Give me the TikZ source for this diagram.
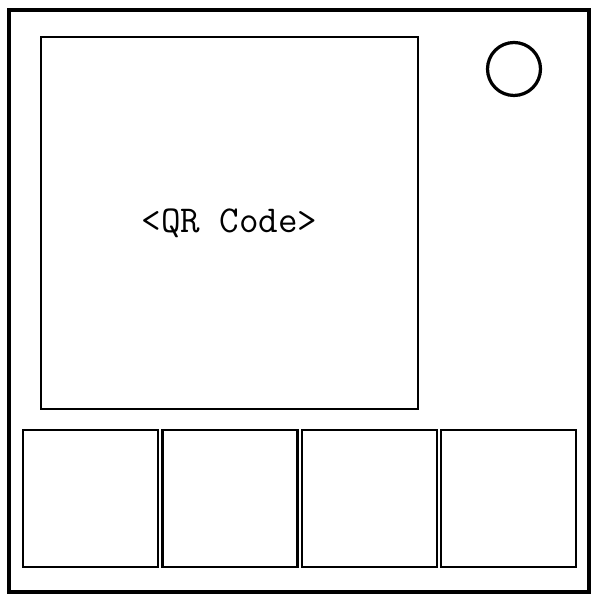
\documentclass[tikz,border=0pt]{standalone}
\usepackage{tikz}
\usetikzlibrary{calc,arrows.meta,positioning}

\begin{document}
\begin{tikzpicture}[x=0.025cm,y=0.025cm]
\useasboundingbox (0,0) rectangle (600,600);
\draw[line width=2.8pt] (9,8) rectangle (589,590);
\node[draw,line width=1.8pt,minimum width=377*0.025cm,minimum height=372*0.025cm,inner sep=0pt,
  font=\fontsize{27}{30}\selectfont\ttfamily] (qr) at (229.5,377) {<QR Code>};
\node[draw,circle,line width=2.3pt,minimum size=53*0.025cm,inner sep=0pt] (hole) at (514,531) {};
\foreach \i in {0,...,3}{
  \node[draw,line width=1.8pt,minimum width=135*0.025cm,minimum height=137*0.025cm,inner sep=0pt]
    (pad\i) at ({90.7+139.3*\i},101.5) {};
}
\end{tikzpicture}
\end{document}
